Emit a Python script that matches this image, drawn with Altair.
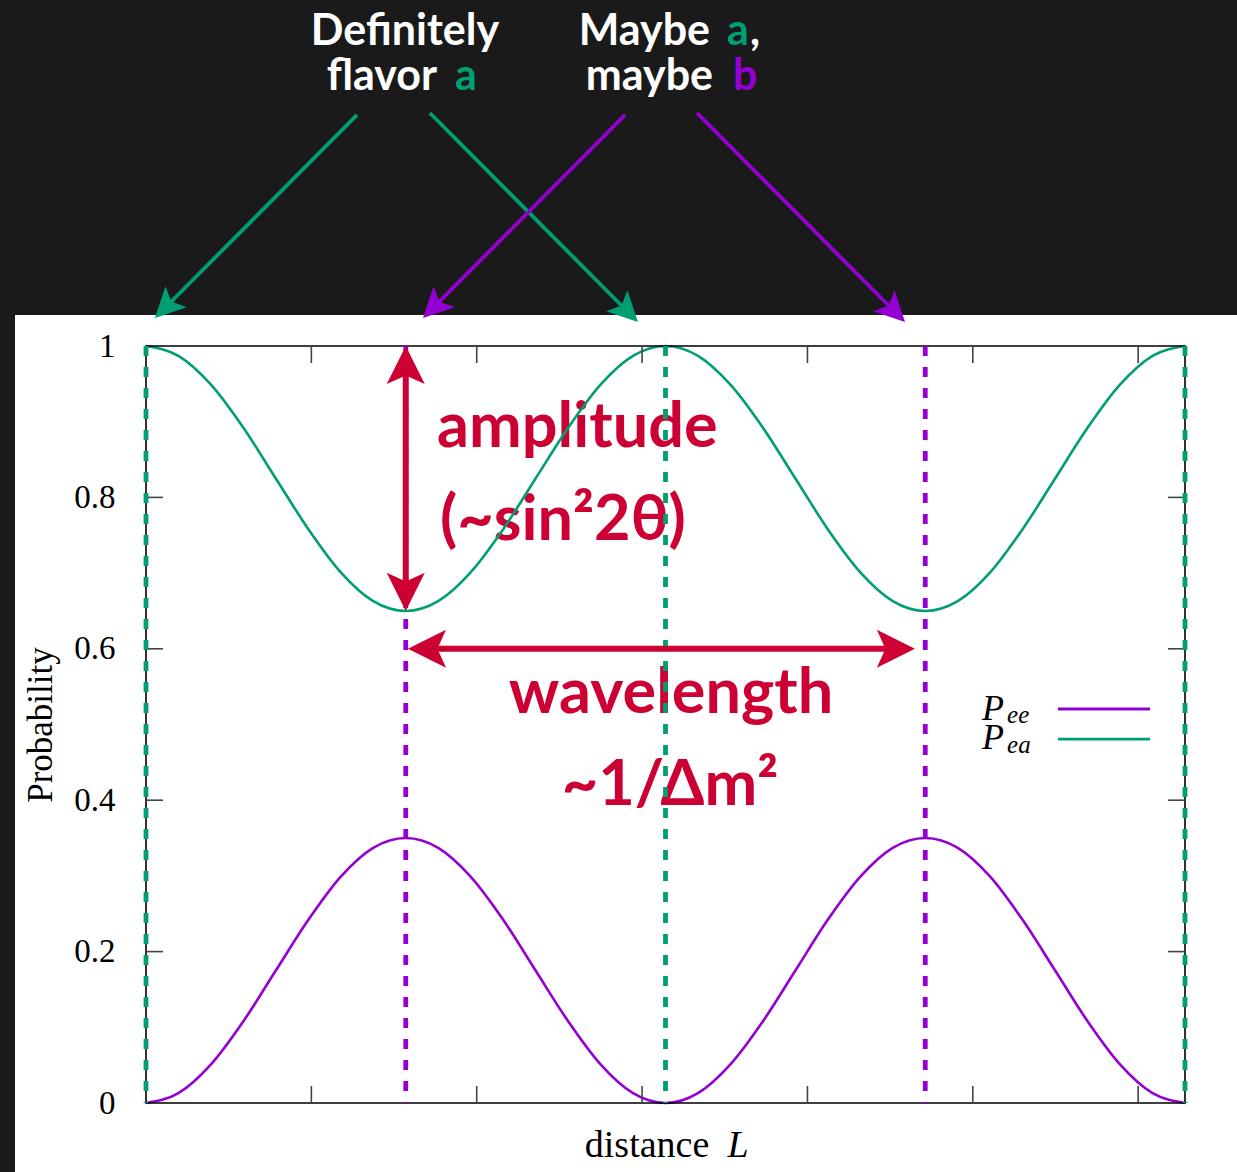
import math
import altair as alt
import pandas as pd

# ---------------- data ----------------
L_VALUES = [0.0, 0.196, 0.393, 0.589, 0.785, 0.982, 1.178, 1.374, 1.571,
            1.767, 1.963, 2.160, 2.356, 2.553, 2.749, 2.945, 3.142,
            3.338, 3.534, 3.731, 3.927, 4.123, 4.320, 4.516, 4.712,
            4.909, 5.105, 5.301, 5.498, 5.694, 5.890, 6.087, 6.283]
P_EE = [0.0, 0.013, 0.051, 0.108, 0.175, 0.242, 0.299, 0.337, 0.35,
        0.337, 0.299, 0.242, 0.175, 0.108, 0.051, 0.013, 0.0,
        0.013, 0.051, 0.108, 0.175, 0.242, 0.299, 0.337, 0.35,
        0.337, 0.299, 0.242, 0.175, 0.108, 0.051, 0.013, 0.0]
P_EA = [1.0, 0.987, 0.949, 0.892, 0.825, 0.758, 0.701, 0.663, 0.65,
        0.663, 0.701, 0.758, 0.825, 0.892, 0.949, 0.987, 1.0,
        0.987, 0.949, 0.892, 0.825, 0.758, 0.701, 0.663, 0.65,
        0.663, 0.701, 0.758, 0.825, 0.892, 0.949, 0.987, 1.0]
SERIES = ["P_ee", "P_ea"]

GREEN_LINES = [0.0, 3.1416, 6.2832]       # "definitely flavor a"
PURPLE_LINES = [1.5708, 4.7124]           # "maybe a, maybe b"
X_TICKS = [1, 2, 3, 4, 5, 6]
Y_TICKS = [0, 0.2, 0.4, 0.6, 0.8, 1]
Y_INNER_TICKS = [0.2, 0.4, 0.6, 0.8]

# ---------------- styles ----------------
GREEN = "#009e73"
PURPLE = "#9400d3"
RED = "#cc0033"
DARK = "#1a1a1a"
SANS = "Lato"
SERIF = "Liberation Serif"

W, H = 1039, 757
X_MAX = 6.2832
KX = W / X_MAX
KY = float(H)

xs = alt.Scale(domain=[0, X_MAX], nice=False, zero=False)
ys = alt.Scale(domain=[0, 1], nice=False, zero=False)

# one colour scale shared by all layers
CKEYS = ["P_ee", "P_ea", "g", "p", "w"]
CVALS = [PURPLE, GREEN, GREEN, PURPLE, "white"]
cscale = alt.Scale(domain=CKEYS, range=CVALS)

HEAD = "M0,0 L1,2 L0,1.55 L-1,2 Z"


def arrow(x0, y0, x1, y1, back, double):
    dxp = (x1 - x0) * KX
    dyp = -(y1 - y0) * KY
    n = math.hypot(dxp, dyp)
    ux, uy = dxp / n, dyp / n
    ang = math.degrees(math.atan2(ux, -uy)) % 360
    sx0, sy0 = x0, y0
    if double:
        sx0 = x0 + back * ux / KX
        sy0 = y0 - back * uy / KY
    sx1 = x1 - back * ux / KX
    sy1 = y1 + back * uy / KY
    heads = [dict(x=x1, y=y1, angle=ang)]
    if double:
        heads.append(dict(x=x0, y=y0, angle=(ang + 180) % 360))
    return dict(x=sx0, y=sy0, x2=sx1, y2=sy1), heads


def X(f="x"):
    return alt.X(f + ":Q", scale=xs, axis=None)


def Y(f="y"):
    return alt.Y(f + ":Q", scale=ys, axis=None)


def C(f="c"):
    return alt.Color(f + ":N", scale=cscale, legend=None)


one = pd.DataFrame({"k": [0]})

# white page area
page = alt.Chart(one).mark_rect(color="white").encode(
    x=alt.value(-131), x2=alt.value(W + 52), y=alt.value(-31), y2=alt.value(H + 69))

# y axis (labels + title only; ticks are drawn inward below)
yaxis_df = pd.DataFrame({"y": Y_TICKS})
yaxis = alt.Chart(yaxis_df).mark_point(opacity=0).encode(
    x=alt.value(0),
    y=alt.Y("y:Q", scale=ys, axis=alt.Axis(
        values=Y_TICKS, format="~g", ticks=False, domain=False, grid=False, zindex=2,
        labelFont=SERIF, labelFontSize=33, labelColor="black", labelPadding=31,
        title="Probability", titleFont=SERIF, titleFontSize=35, titleFontWeight="normal",
        titleColor="black", titleAngle=270, titleX=-106, titleY=H / 2,
        titleAlign="center", titleBaseline="middle")),
)

# frame
frame = alt.Chart(one).mark_rect(fill="transparent", stroke="black", strokeWidth=1.6).encode(
    x=alt.value(0), x2=alt.value(W), y=alt.value(0), y2=alt.value(H))

# inward ticks
xt = pd.DataFrame({"x": X_TICKS})
yt = pd.DataFrame({"y": Y_INNER_TICKS})
TK = dict(color="#444444", strokeWidth=1.6)
ticks_top = alt.Chart(xt).mark_rule(**TK).encode(x=X(), y=alt.value(0), y2=alt.value(17))
ticks_bot = alt.Chart(xt).mark_rule(**TK).encode(x=X(), y=alt.value(H), y2=alt.value(H - 17))
ticks_left = alt.Chart(yt).mark_rule(**TK).encode(y=Y(), x=alt.value(0), x2=alt.value(17))
ticks_right = alt.Chart(yt).mark_rule(**TK).encode(y=Y(), x=alt.value(W), x2=alt.value(W - 17))

# curves
rows = []
for s, vals in zip(SERIES, [P_EE, P_EA]):
    for l, v in zip(L_VALUES, vals):
        rows.append(dict(L=l, P=v, series=s))
df_curves = pd.DataFrame(rows)
curves = alt.Chart(df_curves).mark_line(strokeWidth=2.6, interpolate="monotone").encode(
    x=X("L"), y=Y("P"), color=C("series"), detail="series:N")

# vertical dashed lines
vl = pd.DataFrame({"x": GREEN_LINES + PURPLE_LINES,
                   "c": ["g"] * len(GREEN_LINES) + ["p"] * len(PURPLE_LINES),
                   "top": 1.0, "bot": 0.0})
vlines = alt.Chart(vl).mark_rule(strokeWidth=4.8, strokeDash=[10, 11]).encode(
    x=X(), y=Y("top"), y2="bot:Q", color=C())

# red annotation arrows
red_shafts, red_heads = [], []
for a in [(1.5708, 0.65, 1.5708, 1.0), (1.584, 0.6, 4.65, 0.6)]:
    sh, hd = arrow(*a, back=24, double=True)
    red_shafts.append(sh)
    red_heads += hd
red_shaft = alt.Chart(pd.DataFrame(red_shafts)).mark_rule(color=RED, strokeWidth=6, strokeCap="butt").encode(
    x=X(), y=Y(), x2="x2:Q", y2="y2:Q")
red_head = alt.Chart(pd.DataFrame(red_heads)).mark_point(
    shape=HEAD, size=1450, filled=True, color=RED, opacity=1, strokeWidth=0).encode(
    x=X(), y=Y(), angle=alt.Angle("angle:Q", scale=None))

# red annotation text
red_left = pd.DataFrame({"x": [1.760, 1.778], "y": [0.8666, 0.7437],
                         "t": ["amplitude", "(~sin\u00b22\u03b8)"]})
red_center = pd.DataFrame({"x": [3.175, 3.169], "y": [0.5152, 0.3937],
                           "t": ["wavelength", "~1/\u0394m\u00b2"]})
RT = dict(font=SANS, fontSize=63, fontWeight="bold", color=RED, baseline="alphabetic")
red_text_l = alt.Chart(red_left).mark_text(align="left", **RT).encode(x=X(), y=Y(), text="t:N")
red_text_c = alt.Chart(red_center).mark_text(align="center", **RT).encode(x=X(), y=Y(), text="t:N")

# top labels (above the plot)
TT = dict(font=SANS, fontSize=43, fontWeight="bold", baseline="alphabetic")
top_c = pd.DataFrame({"x": [1.566], "y": [1.3976], "t": ["Definitely"]})
top_r = pd.DataFrame({"x": [1.760, 3.411, 3.429], "y": [1.3382, 1.3976, 1.3382],
                      "t": ["flavor", "Maybe", "maybe"]})
top_l = pd.DataFrame({"x": [1.869, 3.514, 3.653, 3.550], "y": [1.3382, 1.3976, 1.3976, 1.3382],
                      "t": ["a", "a", ",", "b"], "c": ["g", "g", "w", "p"]})
top_text_c = alt.Chart(top_c).mark_text(align="center", color="white", **TT).encode(
    x=X(), y=Y(), text="t:N")
top_text_r = alt.Chart(top_r).mark_text(align="right", color="white", **TT).encode(
    x=X(), y=Y(), text="t:N")
top_text_l = alt.Chart(top_l).mark_text(align="left", **TT).encode(
    x=X(), y=Y(), text="t:N", color=C())

# top arrows
top_arrows = [  # (x0, y0, x1, y1, colour)
    (1.276, 1.3052, 0.054, 1.0370, "g"),
    (1.717, 1.3078, 2.975, 1.0317, "g"),
    (2.897, 1.3052, 1.675, 1.0370, "p"),
    (3.332, 1.3078, 4.590, 1.0317, "p"),
]
t_shafts, t_heads = [], []
for x0, y0, x1, y1, c in top_arrows:
    sh, hd = arrow(x0, y0, x1, y1, back=18, double=False)
    sh["c"] = c
    t_shafts.append(sh)
    for h in hd:
        h["c"] = c
        t_heads.append(h)
top_shaft = alt.Chart(pd.DataFrame(t_shafts)).mark_rule(strokeWidth=3.8, strokeCap="butt").encode(
    x=X(), y=Y(), x2="x2:Q", y2="y2:Q", color=C())
top_head = alt.Chart(pd.DataFrame(t_heads)).mark_point(
    shape=HEAD, size=900, filled=True, opacity=1, strokeWidth=0).encode(
    x=X(), y=Y(), angle=alt.Angle("angle:Q", scale=None), color=C())

# legend (manual, italic math style)
leg_lines = pd.DataFrame({"x": [5.515, 5.515], "x2": [6.072, 6.072], "y": [0.5205, 0.4808],
                          "c": SERIES})
legend_lines = alt.Chart(leg_lines).mark_rule(strokeWidth=2.8).encode(
    x=X(), x2="x2:Q", y=Y(), color=C())
leg_P = pd.DataFrame({"x": [5.189, 5.189], "y": [0.5059, 0.4676], "t": ["P", "P"]})
leg_sub = pd.DataFrame({"x": [5.207, 5.207], "y": [0.502, 0.4624], "t": ["ee", "ea"]})
legend_P = alt.Chart(leg_P).mark_text(font=SERIF, fontSize=36, fontStyle="italic", align="right",
                                      baseline="alphabetic", color="black").encode(
    x=X(), y=Y(), text="t:N")
legend_sub = alt.Chart(leg_sub).mark_text(font=SERIF, fontSize=25, fontStyle="italic", align="left",
                                          baseline="alphabetic", color="black").encode(
    x=X(), y=Y(), text="t:N")

# x-axis title "distance L"
xt1 = pd.DataFrame({"x": [3.030], "y": [-0.0713], "t": ["distance"]})
xt2 = pd.DataFrame({"x": [3.580], "y": [-0.0713], "t": ["L"]})
xtitle1 = alt.Chart(xt1).mark_text(font=SERIF, fontSize=38, align="center", baseline="alphabetic",
                                   color="black").encode(x=X(), y=Y(), text="t:N")
xtitle2 = alt.Chart(xt2).mark_text(font=SERIF, fontSize=38, fontStyle="italic", align="center",
                                   baseline="alphabetic", color="black").encode(x=X(), y=Y(), text="t:N")

chart = alt.layer(
    page, yaxis, red_text_l, red_text_c, curves, frame,
    ticks_top, ticks_bot, ticks_left, ticks_right, vlines, red_shaft, red_head,
    legend_lines, legend_P, legend_sub, xtitle1, xtitle2,
    top_text_c, top_text_r, top_text_l, top_shaft, top_head,
).resolve_axis(
    y="independent", x="independent"
).properties(
    width=W, height=H,
    padding={"left": 146, "top": 346, "right": 52, "bottom": 69},
    autosize=alt.AutoSizeParams(type="none"),
    background=DARK,
).configure_view(strokeWidth=0)

chart.save("out.html", embed_options={"renderer": "svg", "actions": False})
